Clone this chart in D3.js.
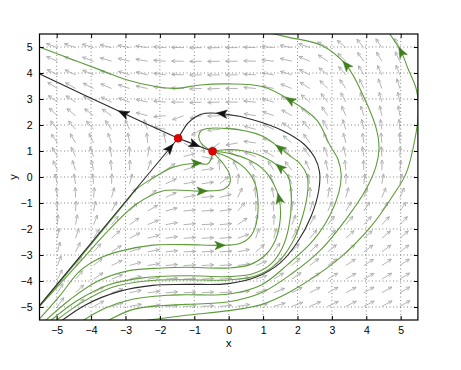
<!DOCTYPE html>
<html>
<head>
<meta charset="utf-8">
<script src="https://cdn.jsdelivr.net/npm/d3@7"></script>
<style>
  body { margin: 0; background: #fff; }
  text { font-family: "Liberation Sans", Arial, sans-serif; }
</style>
</head>
<body>
<script>
// grid where the direction arrows sit (tail of each arrow)
const fieldCols = [-4.976, -4.452, -3.929, -3.405, -2.881, -2.357, -1.833, -1.310, -0.786, -0.262,
                   0.262, 0.786, 1.310, 1.833, 2.357, 2.881, 3.405, 3.929, 4.452, 4.976];
const fieldRows = [4.976, 4.452, 3.929, 3.405, 2.881, 2.357, 1.833, 1.310, 0.786, 0.262,
                   -0.262, -0.786, -1.310, -1.833, -2.357, -2.881, -3.405, -3.929, -4.452, -4.976];
// arrow direction on screen, degrees counter-clockwise from +x, one row per fieldRows entry
const fieldAngles = [
  [160,161,163,166,169,172,176,179,181,181,180,178,175,169,160,151,140,130,124,120],
  [157,158,160,163,166,170,175,179,181,181,180,178,173,166,157,147,136,126,120,116],
  [153,155,157,160,163,167,173,178,181,181,180,177,171,163,153,142,131,121,115,112],
  [148,150,153,157,162,168,172,178,182,182,180,175,168,158,147,135,124,115,110,107],
  [145,147,150,155,160,167,175,180,183,182,180,175,165,152,140,128,118,110,105,102],
  [138,140,142,145,155,165,185,200,192,182,178,170,160,150,138,124,113,107,102,99],
  [130,130,130,125,115,110,170,235,210,185,172,165,155,145,130,118,108,102,98,95],
  [125,120,115,110,100,95,100,330,285,215,190,172,155,140,125,112,104,98,95,92],
  [120,115,110,100,92,80,55,15,350,125,150,160,148,135,125,112,104,98,93,88],
  [115,108,102,95,88,72,35,18,8,95,115,125,122,128,115,103,96,92,89,85],
  [105,100,95,88,75,50,25,10,8,40,85,105,110,110,100,95,88,84,80,78],
  [97,92,85,75,55,40,25,10,5,15,65,95,100,95,88,80,75,70,68,66],
  [93,87,78,62,45,30,15,6,4,8,50,88,95,82,72,65,60,57,56,55],
  [88,80,68,52,35,22,10,5,3,5,35,82,88,68,60,53,50,48,47,47],
  [82,72,58,42,27,15,8,4,3,4,20,72,75,58,50,46,43,42,41,41],
  [76,64,48,33,20,11,6,3,3,4,12,40,55,48,43,40,38,37,37,37],
  [70,56,40,26,16,9,5,3,3,4,8,22,42,42,38,35,34,33,34,34],
  [64,50,34,22,13,8,5,3,3,4,7,18,32,35,32,31,30,30,31,32],
  [59,44,30,19,12,7,4,3,3,4,8,14,22,27,28,28,28,29,30,30],
  [55,40,27,17,10,6,4,3,3,5,9,12,16,20,23,25,26,27,28,29]
];

const tickVals = [-5, -4, -3, -2, -1, 0, 1, 2, 3, 4, 5];

// equilibria
const saddle = [-1.47, 1.49];
const node = [-0.47, 0.99];

// separatrices (black)
const sepUpperLeft = [[-1.47, 1.49], [-3.06, 2.45], [-5.6, 4.03]];
const sepToNode = [[-1.47, 1.49], [-0.97, 1.24], [-0.47, 0.99]];
const sepLowerLeft = [[-5.6, -5.1], [-3.5, -1.74], [-1.47, 1.49]];
const sepRight = [[-4.88, -5.55], [-4.15, -4.91], [-3.18, -4.4], [-2.21, -4.17], [-1.24, -4.13], [0, -4.1],
  [0.8, -3.85], [1.5, -3.3], [2.0, -2.5], [2.4, -1.5], [2.62, -0.5], [2.64, 0.2], [2.5, 0.75], [2.2, 1.25],
  [1.6, 1.76], [0.7, 2.2], [-0.15, 2.43], [-0.68, 2.45], [-0.97, 2.31], [-1.2, 2.05], [-1.36, 1.73], [-1.47, 1.49]];

// trajectories (green)
const trajB0 = [[-5.53, -5.03], [-3.6, -1.95], [-3.0, -0.98], [-2.67, -0.46], [-2.09, 0.05], [-1.61, 0.38],
  [-0.93, 0.53], [-0.62, 0.5], [-0.5, 0.72], [-0.47, 0.99]];
const trajB1 = [[-5.53, -5.02], [-4.45, -3.45], [-3.37, -1.88], [-2.69, -1.05], [-1.92, -0.54], [-0.78, -0.54],
  [-0.15, -0.47], [0.03, -0.25], [0.02, 0.12], [-0.18, 0.55], [-0.4, 0.87], [-0.47, 0.99]];
const trajB2 = [[-5.53, -5.5], [-4.9, -4.55], [-4.34, -3.63], [-3.8, -3.15], [-3.18, -2.86], [-2.21, -2.62],
  [-1.24, -2.6], [-0.25, -2.63], [0.3, -2.57], [0.62, -2.3], [0.8, -1.8], [0.85, -0.9], [0.75, -0.2],
  [0.5, 0.3], [0.05, 0.72], [-0.47, 0.99]];
const trajB3 = [[-5.35, -5.55], [-4.6, -4.7], [-3.8, -4.0], [-2.9, -3.6], [-1.95, -3.5], [-1.24, -3.47],
  [0, -3.5], [0.6, -3.38], [1.05, -3.02], [1.35, -2.45], [1.5, -1.6], [1.47, -0.85], [1.3, -0.25],
  [1.0, 0.3], [0.55, 0.68], [0.05, 0.9], [-0.47, 0.99]];
const trajB4 = [[-5.2, -5.55], [-4.4, -4.75], [-3.5, -4.15], [-2.5, -3.88], [-1.24, -3.8], [0, -3.83],
  [0.7, -3.72], [1.2, -3.38], [1.55, -2.75], [1.75, -1.9], [1.82, -0.8], [1.73, 0], [1.5, 0.36], [0.97, 0.8],
  [0.45, 1.0], [-0.1, 1.05], [-0.47, 0.99]];
const trajB5 = [[-5.05, -5.55], [-4.3, -4.85], [-3.4, -4.25], [-2.4, -4.0], [-1.24, -3.95], [0, -3.96],
  [0.8, -3.8], [1.4, -3.32], [1.85, -2.52], [2.15, -1.5], [2.3, -0.5], [2.28, 0.05], [2.08, 0.5], [1.74, 0.85],
  [1.5, 1.1], [0.97, 1.58], [0, 1.86], [-0.78, 1.8], [-0.87, 1.6], [-0.8, 1.3], [-0.47, 0.99]];
const trajG1 = [[-4.27, -5.55], [-3.6, -5.05], [-2.8, -4.7], [-1.8, -4.55], [-1.24, -4.53], [0, -4.5],
  [0.95, -4.15], [1.72, -3.36], [2.45, -2.45], [2.95, -1.45], [3.2, -0.6], [3.27, 0.1], [3.17, 0.7],
  [2.95, 1.2], [2.56, 2.19], [1.78, 2.96], [1.0, 3.47], [0, 3.58], [-0.83, 3.54], [-1.51, 3.41],
  [-2.09, 3.47], [-3.0, 3.75], [-3.74, 4.12], [-4.7, 4.6], [-5.6, 5.05]];
const trajCA = [[-3.55, -5.55], [-2.8, -5.1], [-2.0, -4.95], [-1.24, -4.9], [0, -4.8], [0.95, -4.45],
  [1.8, -3.75], [2.69, -2.78], [3.45, -1.55], [3.98, -0.5], [4.28, 0.4], [4.37, 1.1], [4.29, 1.86],
  [3.95, 3.01], [3.42, 4.3], [2.69, 5.07], [1.72, 5.38], [1.0, 5.6]];
const trajCB = [[-2.6, -5.55], [-1.24, -5.32], [0, -5.14], [0.95, -4.9], [1.8, -4.4], [3.18, -3.17],
  [4.15, -1.88], [4.78, -0.7], [5.16, 0.15], [5.42, 1.5], [5.52, 2.6], [5.45, 3.4], [5.21, 4.17],
  [5.02, 4.8], [4.63, 5.6]];

// where the arrowheads sit on each curve
const blackArrows = [[sepUpperLeft, -3.06, 2.45], [sepToNode, -1.0, 1.22], [sepLowerLeft, -1.72, 1.1], [sepRight, -0.2, 2.44]];
const greenArrows = [[trajG1, 1.78, 2.96], [trajCA, 3.42, 4.3], [trajCB, 5.02, 4.8], [trajB1, -0.78, -0.54],
  [trajB0, -0.93, 0.53], [trajB2, -0.25, -2.64], [trajB3, 1.4, -0.85], [trajB4, 1.5, 0.36], [trajB5, 1.5, 1.12]];

const width = 461, height = 370;
const svg = d3.select("body").append("svg")
  .attr("width", width)
  .attr("height", height);

const x = d3.scaleLinear().domain([-5.5, 5.5]).range([39.5, 417.9]);
const y = d3.scaleLinear().domain([-5.5, 5.5]).range([320, 34]);

svg.append("clipPath").attr("id", "plot")
  .append("rect")
  .attr("x", x(-5.5)).attr("y", y(5.5))
  .attr("width", x(5.5) - x(-5.5)).attr("height", y(-5.5) - y(5.5));

// dotted grid
const grid = svg.append("g").attr("stroke", "#555").attr("stroke-width", 0.7).attr("stroke-dasharray", "1,2.5");
grid.selectAll(".gx").data(tickVals).join("line")
  .attr("x1", d => x(d)).attr("x2", d => x(d))
  .attr("y1", y(5.5)).attr("y2", y(-5.5));
grid.selectAll(".gy").data(tickVals).join("line")
  .attr("y1", d => y(d)).attr("y2", d => y(d))
  .attr("x1", x(-5.5)).attr("x2", x(5.5));

// direction field
const field = [];
fieldRows.forEach((yv, i) => fieldCols.forEach((xv, j) => field.push({ x: xv, y: yv, a: fieldAngles[i][j] })));
const fg = svg.append("g").attr("clip-path", "url(#plot)")
  .attr("stroke", "#ababab").attr("stroke-width", 0.9).attr("fill", "none");
fg.selectAll("path").data(field).join("path")
  .attr("d", d => {
    const t = d.a * Math.PI / 180;
    const c = Math.cos(t), s = Math.sin(t);
    const L = Math.sqrt((12 * c) ** 2 + (10 * s) ** 2);
    const x0 = x(d.x), y0 = y(d.y);
    const x1 = x0 + L * c, y1 = y0 - L * s;
    const h = 4, w = 0.45;
    const ax = x1 - h * Math.cos(t - w), ay = y1 + h * Math.sin(t - w);
    const bx = x1 - h * Math.cos(t + w), by = y1 + h * Math.sin(t + w);
    return `M${x0},${y0}L${x1},${y1}M${ax},${ay}L${x1},${y1}L${bx},${by}`;
  });

// curves
const line = d3.line().x(d => x(d[0])).y(d => y(d[1])).curve(d3.curveCatmullRom.alpha(0.5));
const curves = svg.append("g").attr("clip-path", "url(#plot)").attr("fill", "none");
const greenCurves = [trajB0, trajB1, trajB2, trajB3, trajB4, trajB5, trajG1, trajCA, trajCB];
const blackCurves = [sepUpperLeft, sepToNode, sepLowerLeft, sepRight];
const pathOf = new Map();
greenCurves.forEach(c => {
  pathOf.set(c, curves.append("path").attr("d", line(c)).attr("stroke", "#5e9c3a").attr("stroke-width", 1.1).node());
});
blackCurves.forEach(c => {
  pathOf.set(c, curves.append("path").attr("d", line(c)).attr("stroke", "#2a2a2a").attr("stroke-width", 1.1).node());
});

// arrowheads on the curves, turned along the drawn path
function drawHeads(list, color) {
  list.forEach(([c, ax, ay]) => {
    const p = pathOf.get(c);
    const total = p.getTotalLength();
    const px = x(ax), py = y(ay);
    let best = 0, bestD = Infinity;
    for (let l = 0; l <= total; l += 0.5) {
      const q = p.getPointAtLength(l);
      const dd = (q.x - px) ** 2 + (q.y - py) ** 2;
      if (dd < bestD) { bestD = dd; best = l; }
    }
    const p0 = p.getPointAtLength(Math.max(0, best - 2));
    const p1 = p.getPointAtLength(Math.min(total, best + 2));
    const q = p.getPointAtLength(best);
    const ang = Math.atan2(p1.y - p0.y, p1.x - p0.x) * 180 / Math.PI;
    curves.append("path")
      .attr("d", "M5.5,0L-5,-4.2L-2.5,0L-5,4.2Z")
      .attr("transform", `translate(${q.x},${q.y}) rotate(${ang})`)
      .attr("fill", color).attr("stroke", color).attr("stroke-width", 0.5);
  });
}
drawHeads(greenArrows, "#3f7f1c");
drawHeads(blackArrows, "#111");

// equilibria
svg.append("g").selectAll("circle").data([saddle, node]).join("circle")
  .attr("cx", d => x(d[0])).attr("cy", d => y(d[1])).attr("r", 4)
  .attr("fill", "#e00000").attr("stroke", "#b00000").attr("stroke-width", 0.5);

// axes, ticks pointing inward on all four sides
const fmt = d3.format("d");
svg.append("g").attr("transform", `translate(0,${y(-5.5)})`)
  .call(d3.axisBottom(x).tickValues(tickVals).tickSizeInner(-4).tickSizeOuter(0).tickPadding(7).tickFormat(d => fmt(d).replace("-", "\u2212")))
  .call(g => g.select(".domain").remove())
  .call(g => g.selectAll("text").attr("font-size", 10.5).attr("fill", "#000"));
svg.append("g").attr("transform", `translate(${x(-5.5)},0)`)
  .call(d3.axisLeft(y).tickValues(tickVals).tickSizeInner(-4).tickSizeOuter(0).tickPadding(7).tickFormat(d => fmt(d).replace("-", "\u2212")))
  .call(g => g.select(".domain").remove())
  .call(g => g.selectAll("text").attr("font-size", 10.5).attr("fill", "#000"));
svg.append("g").attr("transform", `translate(0,${y(5.5)})`)
  .call(d3.axisTop(x).tickValues(tickVals).tickSizeInner(-4).tickSizeOuter(0).tickFormat(""))
  .call(g => g.select(".domain").remove());
svg.append("g").attr("transform", `translate(${x(5.5)},0)`)
  .call(d3.axisRight(y).tickValues(tickVals).tickSizeInner(-4).tickSizeOuter(0).tickFormat(""))
  .call(g => g.select(".domain").remove());

svg.append("rect")
  .attr("x", x(-5.5)).attr("y", y(5.5))
  .attr("width", x(5.5) - x(-5.5)).attr("height", y(-5.5) - y(5.5))
  .attr("fill", "none").attr("stroke", "#000").attr("stroke-width", 1.2);

svg.append("text").attr("x", x(0)).attr("y", 347)
  .attr("text-anchor", "middle").attr("font-size", 11).text("x");
svg.append("text").attr("transform", `translate(17,${y(0)}) rotate(-90)`)
  .attr("text-anchor", "middle").attr("font-size", 11).text("y");
</script>
</body>
</html>
